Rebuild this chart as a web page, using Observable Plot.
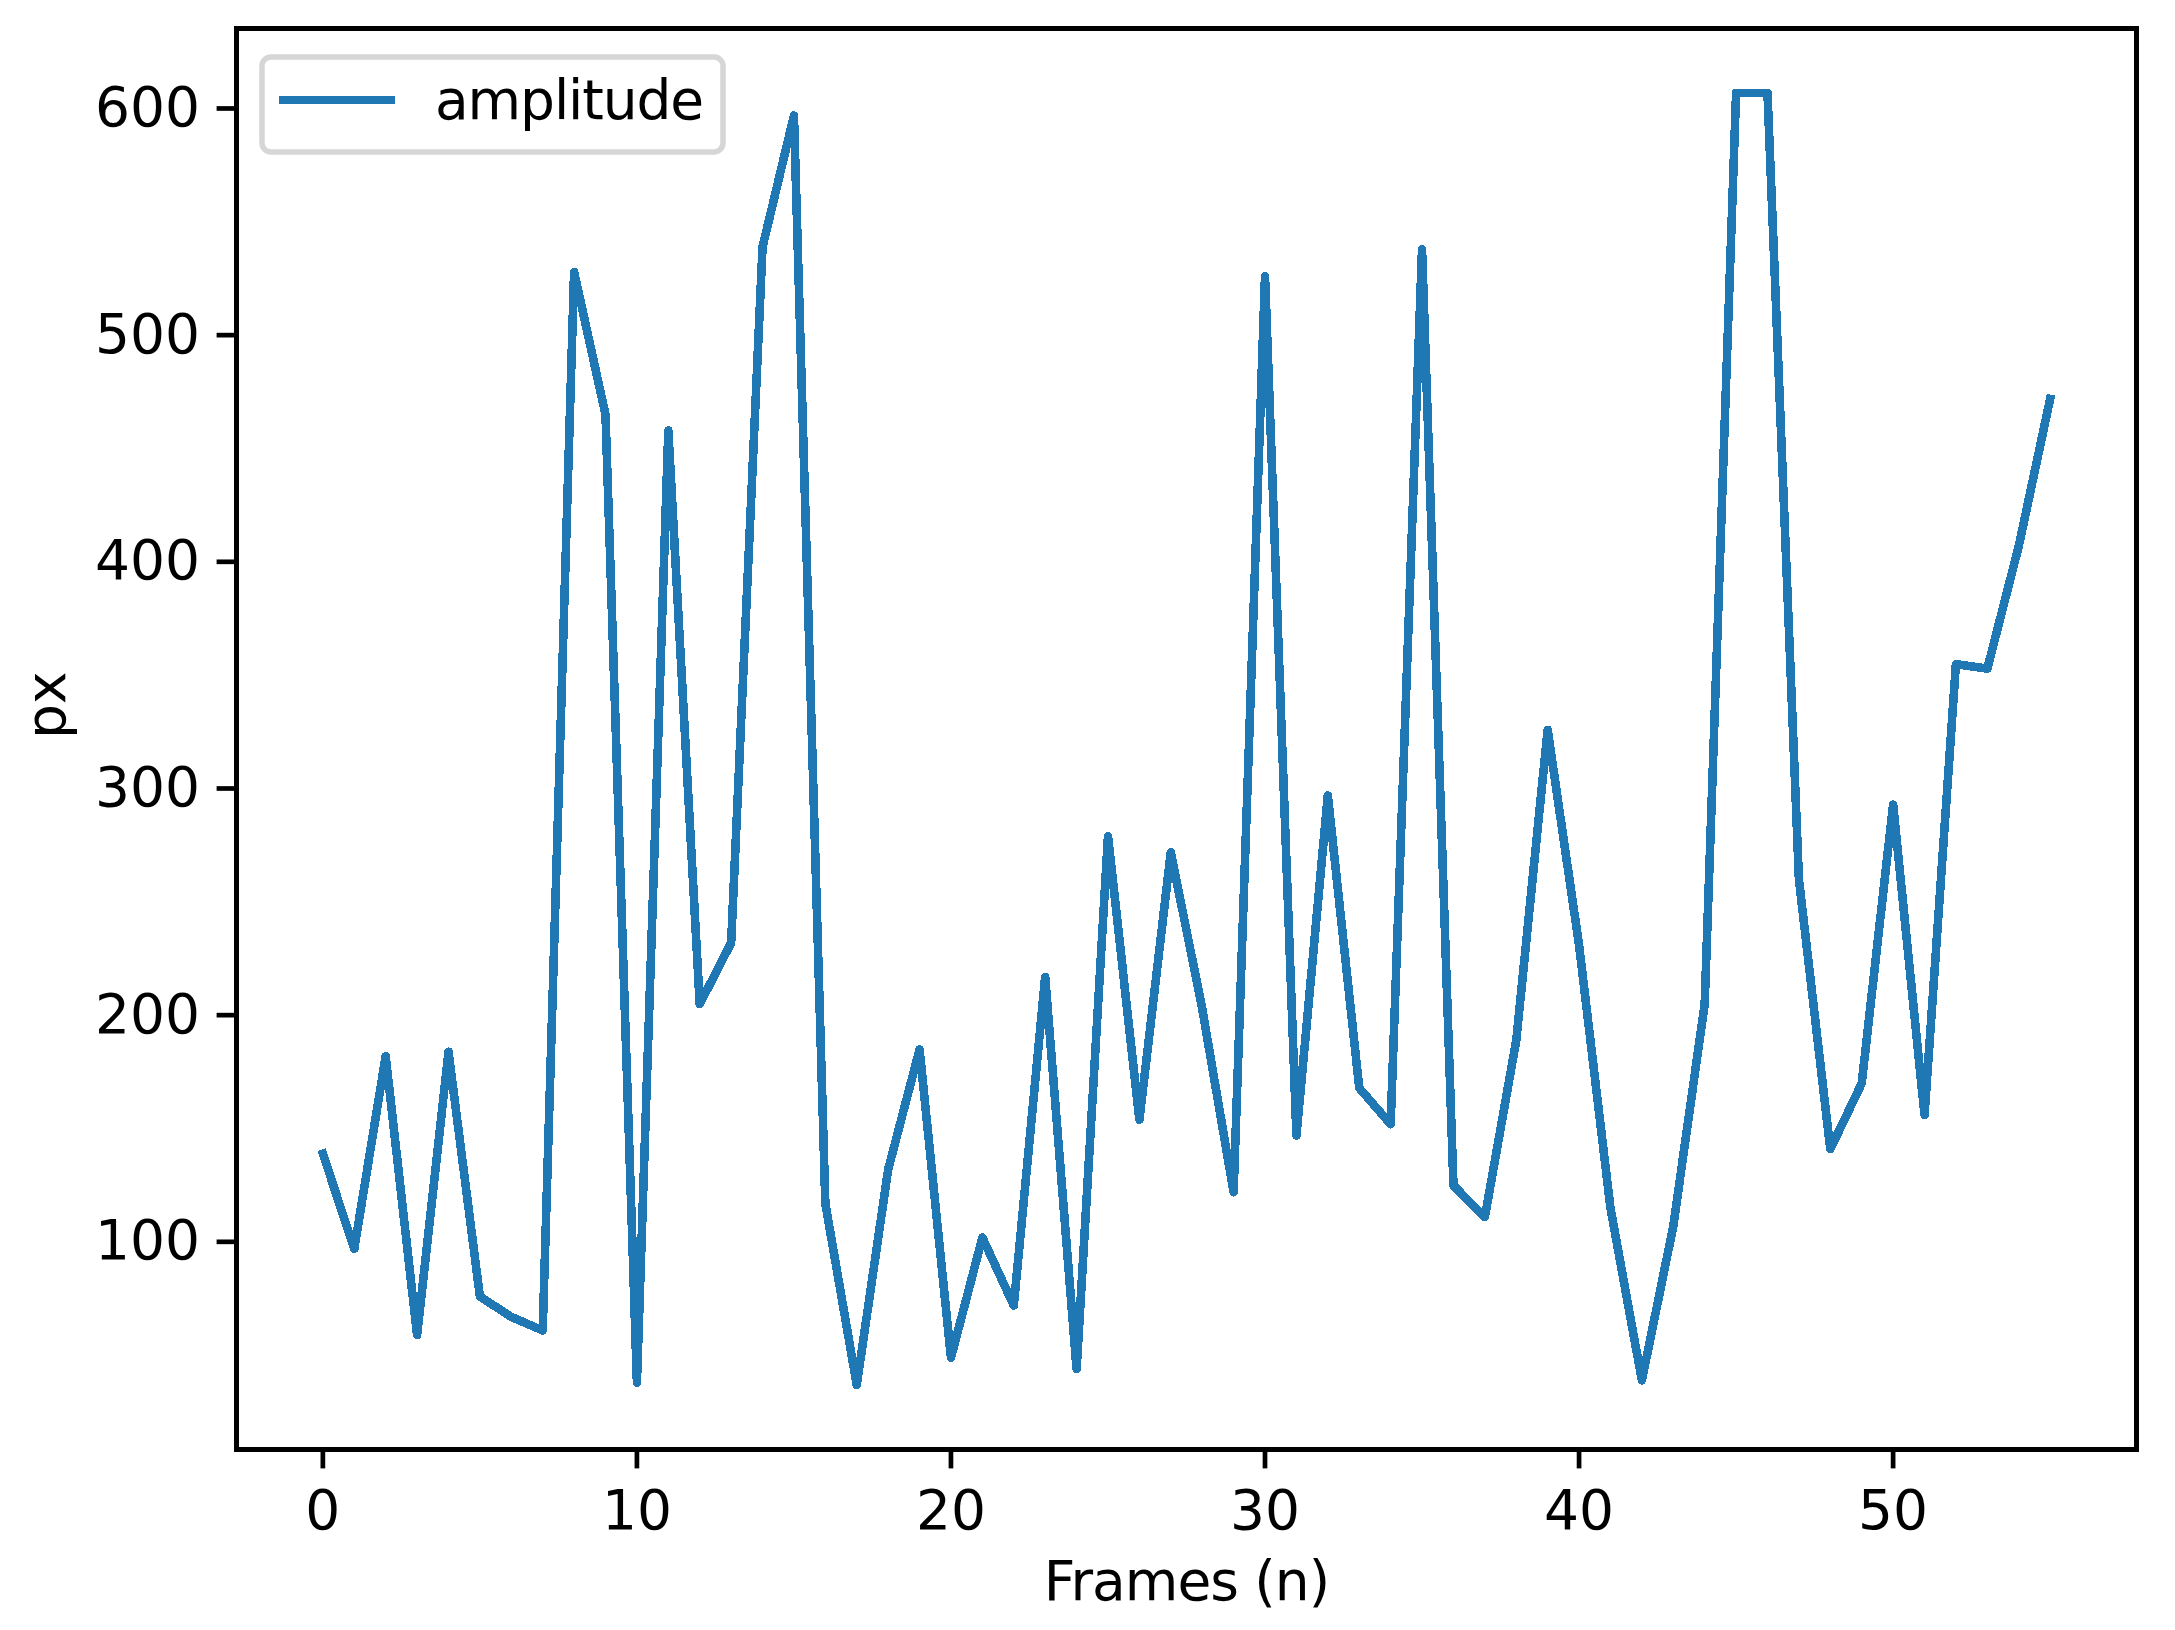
<!DOCTYPE html>
<html>
<head>
<meta charset="utf-8">
<script src="https://cdn.jsdelivr.net/npm/d3@7"></script>
<script src="https://cdn.jsdelivr.net/npm/@observablehq/plot@0.6"></script>
<style>
  html, body { margin: 0; padding: 0; background: white; overflow: hidden; }
  svg { display: block; }
</style>
</head>
<body>
<div id="wrap"></div>
<script>
// ---- data ----
const frames = [0, 1, 2, 3, 4, 5, 6, 7, 8, 9, 10, 11, 12, 13, 14, 15, 16, 17, 18, 19,
  20, 21, 22, 23, 24, 25, 26, 27, 28, 29, 30, 31, 32, 33, 34, 35, 36, 37, 38, 39,
  40, 41, 42, 43, 44, 45, 46, 47, 48, 49, 50, 51, 52, 53, 54, 55];
const amplitude = [138, 96, 181, 58, 183, 75, 66, 60, 527, 464, 37, 457, 204, 231, 538, 596,
  116, 36, 131, 184, 48, 101, 71, 216, 43, 278, 153, 271, 202, 121, 525, 146, 296, 167,
  151, 537, 124, 110, 188, 325, 230, 114, 38, 106, 204, 606, 606, 259, 140, 169, 292,
  155, 354, 352, 406, 471];
const xTicks = [0, 10, 20, 30, 40, 50];
const yTicks = [100, 200, 300, 400, 500, 600];
const seriesName = "amplitude";
const xLabel = "Frames (n)";
const yLabel = "px";

// ---- layout ----
const W = 2175, H = 1630;
const mL = 236, mR = 39, mT = 28, mB = 181;
const FS = 55;
const tickLen = 19.4, spineW = 4.7, lineW = 8.6;
const blue = "#1f77b4";

const data = frames.map((f, i) => ({frame: f, amp: amplitude[i]}));

const chart = Plot.plot({
  width: W,
  height: H,
  marginLeft: mL,
  marginRight: mR,
  marginTop: mT,
  marginBottom: mB,
  style: {fontFamily: "'DejaVu Sans', sans-serif", fontSize: FS + "px", color: "black", background: "white", overflow: "visible"},
  x: {domain: [-2.75, 57.75]},
  y: {domain: [7.5, 634.4]},
  marks: [
    Plot.line(data, {x: "frame", y: "amp", stroke: blue, strokeWidth: lineW, strokeLinejoin: "round", strokeLinecap: "square", shapeRendering: "crispEdges"}),
    Plot.frame({stroke: "black", strokeWidth: spineW, shapeRendering: "crispEdges"}),
    Plot.axisX({ticks: xTicks, tickSize: tickLen, tickPadding: 20.6, fontSize: FS, strokeWidth: spineW, label: null, tickFormat: d => String(d)}),
    Plot.axisY({ticks: yTicks, tickSize: tickLen, tickPadding: 17, fontSize: FS, strokeWidth: spineW, label: null, dy: 2, tickFormat: d => String(d)}),
    Plot.text([xLabel], {text: d => d, frameAnchor: "bottom", lineAnchor: "bottom", dy: 150, fontSize: FS, fill: "black"}),
    Plot.text([yLabel], {text: d => d, frameAnchor: "left", lineAnchor: "bottom", rotate: -90, dx: -172, fontSize: FS, fill: "black"})
  ]
});

document.getElementById("wrap").appendChild(chart);

// slightly tighter letter spacing on the x label, as in the reference
d3.select(chart).selectAll("text").filter(function() { return this.textContent === xLabel; })
  .attr("letter-spacing", "-1px");

// ---- legend (inside the axes, upper left) ----
const svg = d3.select(chart);
const lg = svg.append("g").attr("transform", `translate(${mL},${mT})`);
lg.append("rect")
  .attr("x", 26).attr("y", 29).attr("width", 461).attr("height", 95)
  .attr("rx", 9).attr("ry", 9)
  .attr("fill", "white").attr("fill-opacity", 0.8)
  .attr("stroke", "#cccccc").attr("stroke-opacity", 0.8).attr("stroke-width", 5.5);
lg.append("line")
  .attr("x1", 43).attr("x2", 159).attr("y1", 72).attr("y2", 72)
  .attr("stroke", blue).attr("stroke-width", lineW)
  .attr("shape-rendering", "crispEdges");
lg.append("text")
  .attr("x", 199).attr("y", 90.7)
  .attr("text-anchor", "start")
  .attr("font-family", "'DejaVu Sans', sans-serif")
  .attr("font-size", FS)
  .attr("letter-spacing", "-1.1px")
  .attr("fill", "black")
  .text(seriesName);
</script>
</body>
</html>
